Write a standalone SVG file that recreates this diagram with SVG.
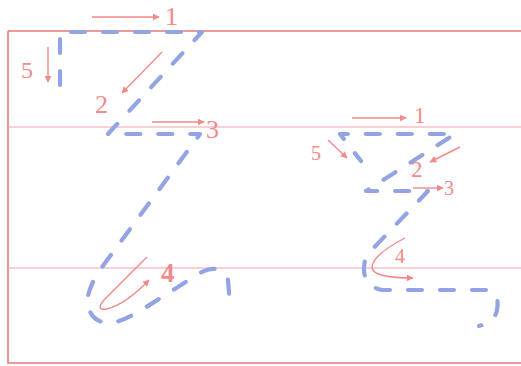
<svg xmlns="http://www.w3.org/2000/svg" width="521" height="366" viewBox="0 0 521 366">
<style>
.frame{fill:none;stroke:#e77a7a;stroke-width:1.6}
.guide{fill:none;stroke:#f2a0a8;stroke-width:1}
.dash{fill:none;stroke:#93a3e4;stroke-width:4.2;stroke-linecap:round;stroke-linejoin:round;stroke-dasharray:14 18}
.arr{fill:none;stroke:#f28a8a;stroke-width:1.4;marker-end:url(#ah)}
.lbl{font-family:"Liberation Serif","Times New Roman",serif;fill:#f28a8a}
</style>
<defs>
<marker id="ah" viewBox="0 0 10 10" refX="9" refY="5" markerWidth="7" markerHeight="7" markerUnits="userSpaceOnUse" orient="auto">
<path d="M0,0 L10,5 L0,10 z" fill="#f28a8a"/>
</marker>
</defs>
<rect width="521" height="366" fill="#ffffff"/>
<g id="frame">
<path class="frame" d="M8,31 H521 M8,31 V363 H521"/>
<path class="guide" d="M8,127 H521 M8,268 H521"/>
</g>
<g id="letter-Z">
<path class="dash" d="M60,85 V32 H202 L108,134 H200 L105,263 Q85,290 88,305 Q92,326 116,322 Q126,319 140,311 L200,273 Q220,262 228,280 L230,305"/>
</g>
<g id="letter-z">
<path class="dash" style="stroke-dashoffset:4" d="M361,161 L340,134 H455 L366,191 H428 L366,256 Q358,285 382,290 H488 Q500,292 497,310 Q495,322 479,326"/>
</g>
<g id="arrows-left">
<path class="arr" d="M92,17 H159"/>
<path class="arr" d="M48,47 V82"/>
<path class="arr" d="M162,52 L122,93"/>
<path class="arr" d="M152,122 H204"/>
<path class="arr" d="M147,257 L104,300 Q95,311 107,309 Q126,304 149,280"/>
</g>
<g id="arrows-right">
<path class="arr" d="M352,118 H406"/>
<path class="arr" d="M328,140 L347,158"/>
<path class="arr" d="M460,147 L430,162"/>
<path class="arr" d="M413,188 H443"/>
<path class="arr" d="M405,238 Q372,255 372,268 Q374,278 413,278"/>
</g>
<g id="labels">
<text class="lbl" x="165" y="25" font-size="26">1</text>
<text class="lbl" x="21" y="78" font-size="24">5</text>
<text class="lbl" x="95" y="113" font-size="26">2</text>
<text class="lbl" x="206" y="138" font-size="26">3</text>
<text class="lbl" x="161" y="282" font-size="27" font-weight="600">4</text>
<text class="lbl" x="414" y="123" font-size="23">1</text>
<text class="lbl" x="311" y="160" font-size="20">5</text>
<text class="lbl" x="411" y="177" font-size="23">2</text>
<text class="lbl" x="444" y="195" font-size="20">3</text>
<text class="lbl" x="395" y="263" font-size="20">4</text>
</g>
</svg>
